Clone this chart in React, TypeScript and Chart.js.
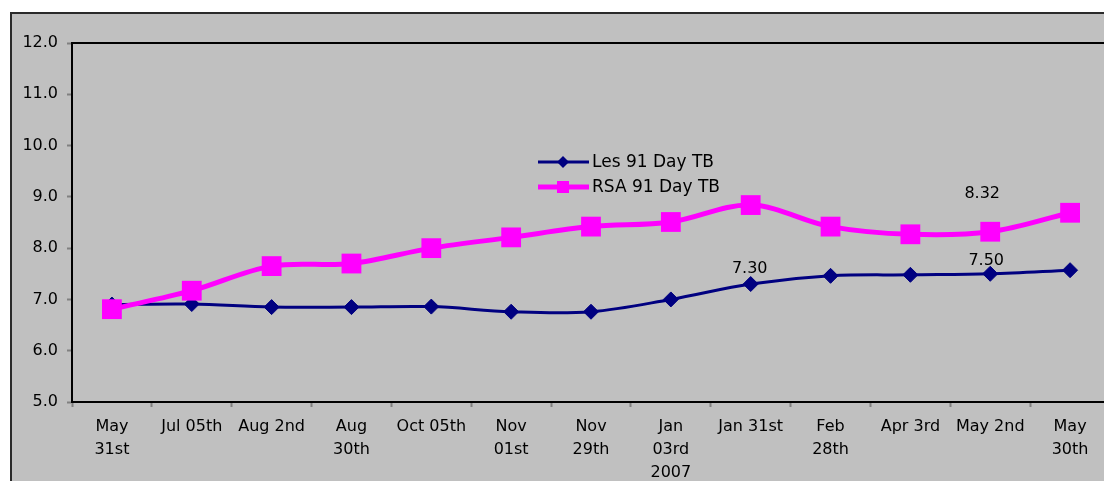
import React, { useEffect, useRef } from "react";
import { Chart, registerables } from "chart.js";

Chart.register(...registerables);

const categories: (string | string[])[] = [
  ["May", "31st"],
  "Jul 05th",
  "Aug 2nd",
  ["Aug", "30th"],
  "Oct 05th",
  ["Nov", "01st"],
  ["Nov", "29th"],
  ["Jan", "03rd", "2007"],
  "Jan 31st",
  ["Feb", "28th"],
  "Apr 3rd",
  "May 2nd",
  ["May", "30th"],
];

const lesValues = [6.9, 6.91, 6.85, 6.85, 6.86, 6.76, 6.76, 7.0, 7.3, 7.46, 7.48, 7.5, 7.57];
const rsaValues = [6.81, 7.17, 7.65, 7.7, 8.0, 8.21, 8.42, 8.51, 8.84, 8.42, 8.27, 8.32, 8.69];

const seriesNames = ["Les 91 Day TB", "RSA 91 Day TB"];

const yMin = 5;
const yMax = 12;
const yStep = 1;

// which points carry a value label: [datasetIndex, pointIndex, dx, dy]
const valueLabels: [number, number, number, number][] = [
  [0, 8, -1, -15],
  [0, 11, -4, -13],
  [1, 11, -8, -38],
];

const FONT = "'DejaVu Sans', 'Liberation Sans', Arial, sans-serif";
const LES_COLOR = "#000080";
const RSA_COLOR = "#FF00FF";
const BG = "#C0C0C0";

const bgPlugin = {
  id: "bgPlugin",
  beforeDraw(chart: any) {
    const { ctx, width, height, chartArea } = chart;
    ctx.save();
    ctx.fillStyle = "#FFFFFF";
    ctx.fillRect(0, 0, width, height);
    ctx.fillStyle = BG;
    ctx.fillRect(10, 12, width, height);
    ctx.strokeStyle = "#2a2a2a";
    ctx.lineWidth = 2;
    ctx.strokeRect(11, 13, width + 10, height + 10);
    ctx.fillStyle = BG;
    ctx.fillRect(chartArea.left, chartArea.top, chartArea.right - chartArea.left, chartArea.bottom - chartArea.top);
    ctx.restore();
  },
  afterDraw(chart: any) {
    const { ctx, chartArea } = chart;
    ctx.save();
    ctx.strokeStyle = "#000";
    ctx.lineWidth = 2;
    ctx.beginPath();
    ctx.moveTo(chartArea.left - 1, chartArea.top);
    ctx.lineTo(chartArea.right, chartArea.top);
    ctx.stroke();
    ctx.restore();
  },
};

const labelPlugin = {
  id: "labelPlugin",
  afterDatasetsDraw(chart: any) {
    const { ctx, chartArea } = chart;
    ctx.save();
    ctx.font = `16px ${FONT}`;
    ctx.fillStyle = "#000";
    ctx.textAlign = "center";
    ctx.textBaseline = "middle";
    valueLabels.forEach(([di, pi, dx, dy]) => {
      const meta = chart.getDatasetMeta(di);
      const pt = meta.data[pi];
      const v = chart.data.datasets[di].data[pi] as number;
      ctx.fillText(v.toFixed(2), pt.x + dx, pt.y + dy);
    });

    // legend inside plot area
    const lx = chartArea.left + 466;
    const ly = chartArea.top + 119;
    const rows = [
      { color: LES_COLOR, width: 3, style: "diamond", name: seriesNames[0] },
      { color: RSA_COLOR, width: 5, style: "square", name: seriesNames[1] },
    ];
    rows.forEach((r, i) => {
      const y = ly + i * 25;
      ctx.strokeStyle = r.color;
      ctx.lineWidth = r.width;
      ctx.beginPath();
      ctx.moveTo(lx, y);
      ctx.lineTo(lx + 51, y);
      ctx.stroke();
      ctx.fillStyle = r.color;
      const cx = lx + 25;
      if (r.style === "diamond") {
        ctx.beginPath();
        ctx.moveTo(cx, y - 6);
        ctx.lineTo(cx + 6, y);
        ctx.lineTo(cx, y + 6);
        ctx.lineTo(cx - 6, y);
        ctx.closePath();
        ctx.fill();
      } else {
        ctx.fillRect(cx - 6, y - 6, 12, 12);
      }
      ctx.fillStyle = "#000";
      ctx.textAlign = "left";
      ctx.font = `17px ${FONT}`;
      ctx.fillText(r.name, lx + 54, y + 1);
    });
    ctx.restore();
  },
};

export default function App() {
  const ref = useRef<HTMLCanvasElement | null>(null);

  useEffect(() => {
    if (!ref.current) return;
    const chart = new Chart(ref.current, {
      type: "line",
      data: {
        labels: categories,
        datasets: [
          {
            label: seriesNames[0],
            data: lesValues,
            borderColor: LES_COLOR,
            backgroundColor: LES_COLOR,
            borderWidth: 3,
            pointStyle: "rectRot",
            pointRadius: 7.5,
            pointBorderWidth: 1,
            tension: 0.35,
            order: 1,
          },
          {
            label: seriesNames[1],
            data: rsaValues,
            borderColor: RSA_COLOR,
            backgroundColor: RSA_COLOR,
            borderWidth: 5,
            pointStyle: "rect",
            pointRadius: 14,
            pointBorderWidth: 0,
            tension: 0.35,
            order: 0,
          },
        ],
      },
      options: {
        responsive: false,
        animation: false,
        layout: { padding: { left: 0, top: 43, right: 20, bottom: 0 } },
        plugins: {
          legend: { display: false },
          tooltip: { enabled: false },
          title: { display: false },
        },
        scales: {
          x: {
            type: "category",
            offset: true,
            grid: {
              offset: true,
              drawOnChartArea: false,
              drawTicks: true,
              tickLength: 5,
              tickColor: "#808080",
              tickWidth: 2,
            },
            border: { display: true, color: "#000", width: 2 },
            ticks: {
              color: "#000",
              font: { family: FONT, size: 16, lineHeight: 1.45 },
              padding: 8,
              maxRotation: 0,
              autoSkip: false,
            },
            afterFit(scale: any) {
              scale.height = 98;
            },
          },
          y: {
            min: yMin,
            max: yMax,
            grid: {
              drawOnChartArea: false,
              drawTicks: true,
              tickLength: 5,
              tickColor: "#808080",
              tickWidth: 2,
            },
            border: { display: true, color: "#000", width: 2 },
            ticks: {
              stepSize: yStep,
              color: "#000",
              font: { family: FONT, size: 16 },
              padding: 9,
              callback: (v: any) => Number(v).toFixed(1),
            },
            afterFit(scale: any) {
              scale.width = 72;
            },
          },
        },
      },
      plugins: [bgPlugin, labelPlugin],
    });
    return () => chart.destroy();
  }, []);

  return (
    <div style={{ position: "fixed", left: 0, top: 0, width: 1130, height: 500, overflow: "hidden" }}>
      <canvas ref={ref} width={1130} height={500} style={{ width: 1130, height: 500, display: "block" }} />
    </div>
  );
}
